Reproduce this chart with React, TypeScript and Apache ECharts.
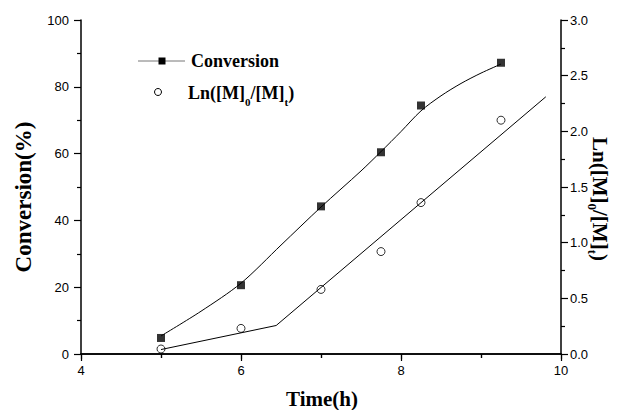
import React, { useEffect, useRef } from "react";
import * as echarts from "echarts";

const convTime = [5.0, 6.0, 7.0, 7.75, 8.25, 9.25];
const convValues = [4.8, 20.6, 44.2, 60.4, 74.4, 87.2];
const lnTime = [5.0, 6.0, 7.0, 7.75, 8.25, 9.25];
const lnValues = [0.045, 0.23, 0.58, 0.92, 1.36, 2.1];
const convFitTime = [5.0, 5.5, 6.0, 6.5, 7.0, 7.5, 7.75, 8.0, 8.25, 8.5, 8.75, 9.0, 9.25];
const convFitValues = [5.4, 12.8, 21.2, 32.6, 44.0, 54.8, 60.6, 66.6, 72.8, 77.3, 81.0, 84.1, 86.8];
const lnFitTime = [5.0, 6.44, 9.81];
const lnFitValues = [0.04, 0.256, 2.31];

const serif = "'Liberation Serif', 'Times New Roman', serif";
const sans = "'Liberation Sans', Arial, sans-serif";

const zip = (a: number[], b: number[]) => a.map((v, i) => [v, b[i]]);

const subRich = (size: number) => ({
  b: { fontFamily: serif, fontWeight: "bold", fontSize: size, lineHeight: 28, color: "#000", verticalAlign: "middle" },
  s: { fontFamily: serif, fontWeight: "bold", fontSize: Math.round(size * 0.6), lineHeight: 10, color: "#000", verticalAlign: "bottom" },
});

export default function App() {
  const ref = useRef<HTMLDivElement>(null);
  useEffect(() => {
    if (!ref.current) return;
    const chart = echarts.init(ref.current, undefined, { renderer: "svg" });
    const axisLine = { show: true, lineStyle: { color: "#000", width: 1.5 } };
    const label = { color: "#000", fontSize: 13, fontFamily: sans };
    chart.setOption({
      animation: false,
      backgroundColor: "#fff",
      grid: { left: 81, right: 57, top: 20, bottom: 56, containLabel: false },
      xAxis: [
        {
          type: "value", min: 4, max: 10, interval: 2, position: "bottom",
          axisLine, axisTick: { length: 7, lineStyle: { color: "#000", width: 1.2 } },
          minorTick: { show: true, splitNumber: 2, length: 4, lineStyle: { color: "#000", width: 1.2 } },
          axisLabel: { ...label, margin: 10 },
          splitLine: { show: false },
        },
        {
          type: "value", min: 4, max: 10, interval: 2, position: "top",
          axisLine, axisTick: { inside: true, length: 5, lineStyle: { color: "#000", width: 1.2 } },
          minorTick: { show: true, splitNumber: 2, length: 4, lineStyle: { color: "#000", width: 1.2 } },
          axisLabel: { show: false },
          splitLine: { show: false },
        },
      ],
      yAxis: [
        {
          type: "value", min: 0, max: 100, interval: 20, position: "left",
          axisLine, axisTick: { length: 7, lineStyle: { color: "#000", width: 1.2 } },
          minorTick: { show: true, splitNumber: 2, length: 4, lineStyle: { color: "#000", width: 1.2 } },
          axisLabel: { ...label, margin: 12 },
          splitLine: { show: false },
        },
        {
          type: "value", min: 0, max: 3, interval: 0.5, position: "right",
          axisLine, axisTick: { length: 7, lineStyle: { color: "#000", width: 1.2 } },
          minorTick: { show: true, splitNumber: 2, length: 4, lineStyle: { color: "#000", width: 1.2 } },
          axisLabel: { ...label, margin: 9, formatter: (v: number) => v.toFixed(1) },
          splitLine: { show: false },
        },
      ],
      series: [
        {
          name: "ConversionFit", type: "line", xAxisIndex: 0, yAxisIndex: 0,
          data: zip(convFitTime, convFitValues), smooth: 0.3, showSymbol: false,
          lineStyle: { color: "#000", width: 1 },
        },
        {
          name: "LnFit", type: "line", xAxisIndex: 0, yAxisIndex: 1,
          data: zip(lnFitTime, lnFitValues), showSymbol: false,
          lineStyle: { color: "#000", width: 1 },
        },
        {
          name: "Conversion", type: "scatter", xAxisIndex: 0, yAxisIndex: 0,
          data: zip(convTime, convValues), symbol: "rect", symbolSize: 8,
          itemStyle: { color: "#000" },
        },
        {
          name: "Ln", type: "scatter", xAxisIndex: 0, yAxisIndex: 1,
          data: zip(lnTime, lnValues), symbol: "circle", symbolSize: 8,
          itemStyle: { color: "#fff", borderColor: "#000", borderWidth: 1 },
        },
      ],
      graphic: [
        { type: "line", shape: { x1: 138, y1: 61, x2: 185, y2: 61 }, style: { stroke: "#777", lineWidth: 1 } },
        { type: "rect", shape: { x: 158.5, y: 57.5, width: 7, height: 7 }, style: { fill: "#000" } },
        {
          type: "text", x: 191, y: 61,
          style: { text: "Conversion", fontFamily: serif, fontWeight: "bold", fontSize: 18, fill: "#000", verticalAlign: "middle" },
        },
        { type: "circle", shape: { cx: 158, cy: 92, r: 3.5 }, style: { fill: "#fff", stroke: "#000", lineWidth: 1 } },
        {
          type: "text", x: 188, y: 93,
          style: { text: "{b|Ln([M]}{s|0}{b|/[M]}{s|t}{b|)}", rich: subRich(18), verticalAlign: "middle" },
        },
        {
          type: "text", x: 322, y: 399,
          style: { text: "Time(h)", fontFamily: serif, fontWeight: "bold", fontSize: 21, fill: "#000", align: "center", verticalAlign: "middle" },
        },
        {
          type: "text", x: 23, y: 197, rotation: Math.PI / 2,
          style: { text: "Conversion(%)", fontFamily: serif, fontWeight: "bold", fontSize: 23, fill: "#000", align: "center", verticalAlign: "middle" },
        },
        {
          type: "text", x: 600, y: 199, rotation: -Math.PI / 2,
          style: { text: "{b|Ln([M]}{s|0}{b|/[M]}{s|t}{b|)}", rich: subRich(21), align: "center", verticalAlign: "middle" },
        },
      ],
    });
    return () => chart.dispose();
  }, []);
  return <div ref={ref} style={{ position: "fixed", left: 0, top: 0, width: 618, height: 410 }} />;
}
